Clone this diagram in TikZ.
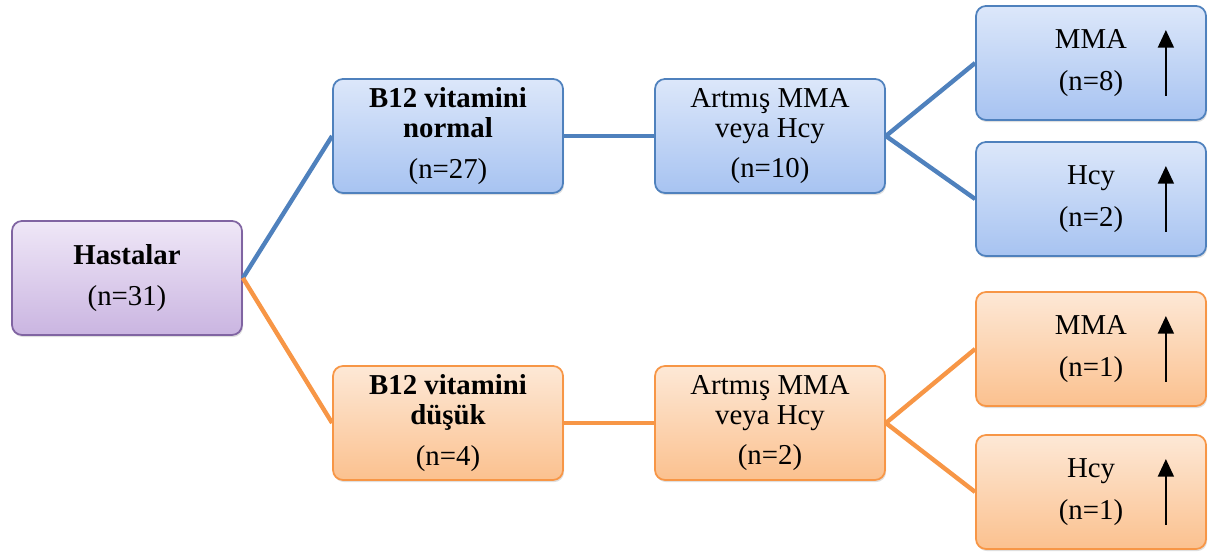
\documentclass[tikz,border=0pt]{standalone}
\usepackage{fontspec}
\setmainfont{Liberation Serif}
\usepackage{tikz}
\usetikzlibrary{positioning, shadows, arrows.meta}

\definecolor{bblue}{HTML}{4F81BD}
\definecolor{borange}{HTML}{F79646}
\definecolor{bpurple}{HTML}{8064A2}
\definecolor{mavi1}{HTML}{DCE7FA}
\definecolor{mavi2}{HTML}{A7C3F1}
\definecolor{tur1}{HTML}{FDE8D6}
\definecolor{tur2}{HTML}{FBC18F}
\definecolor{mor1}{HTML}{EFE7F7}
\definecolor{mor2}{HTML}{CAB5E1}

\begin{document}
\begin{tikzpicture}[
    kutu/.style={draw, rounded corners=0.2cm, minimum width=4.6cm, minimum height=2.28cm,
      align=center, line width=1pt, font=\fontsize{16.4}{17}\selectfont,
      drop shadow={opacity=0.25, shadow xshift=0.6pt, shadow yshift=-1.2pt}},
    mavi/.style={kutu, draw=bblue, top color=mavi1, bottom color=mavi2},
    turuncu/.style={kutu, draw=borange, top color=tur1, bottom color=tur2},
    mor/.style={kutu, draw=bpurple, top color=mor1, bottom color=mor2},
    mhat/.style={draw=bblue, line width=2.5pt},
    that/.style={draw=borange, line width=2.5pt},
    ok/.style={line width=1.2pt, -{Triangle[length=10pt, width=9pt]}}]
    \useasboundingbox (0,0) rectangle (24.16,11.06);

    % Hasta gruplari agaci
    \node[mor] (hast) at (2.54,5.5) {\textbf{Hastalar}\\[6pt](n=31)};
    \node[mavi] (b12n) at (8.96,8.34) {\textbf{B12 vitamini}\\\textbf{normal}\\[6pt](n=27)};
    \node[mavi] (artn) at (15.4,8.34) {Artmış MMA\\veya Hcy\\[6pt](n=10)};
    \node[mavi] (mman) at (21.82,9.8) {MMA\\[7pt](n=8)};
    \node[mavi] (hcyn) at (21.82,7.08) {Hcy\\[7pt](n=2)};
    \node[turuncu] (b12d) at (8.96,2.6) {\textbf{B12 vitamini}\\\textbf{düşük}\\[6pt](n=4)};
    \node[turuncu] (artd) at (15.4,2.6) {Artmış MMA\\veya Hcy\\[6pt](n=2)};
    \node[turuncu] (mmad) at (21.82,4.08) {MMA\\[7pt](n=1)};
    \node[turuncu] (hcyd) at (21.82,1.22) {Hcy\\[7pt](n=1)};

    \draw[mhat] (hast.east) -- (b12n.west);
    \draw[mhat] (b12n.east) -- (artn.west);
    \draw[mhat] (artn.east) -- (mman.west);
    \draw[mhat] (artn.east) -- (hcyn.west);
    \draw[that] (hast.east) -- (b12d.west);
    \draw[that] (b12d.east) -- (artd.west);
    \draw[that] (artd.east) -- (mmad.west);
    \draw[that] (artd.east) -- (hcyd.west);

    \foreach \n in {mman, hcyn, mmad, hcyd}
      \draw[ok] ([xshift=-0.82cm, yshift=-0.66cm]\n.east) -- ([xshift=-0.82cm, yshift=0.66cm]\n.east);
  \end{tikzpicture}
\end{document}
